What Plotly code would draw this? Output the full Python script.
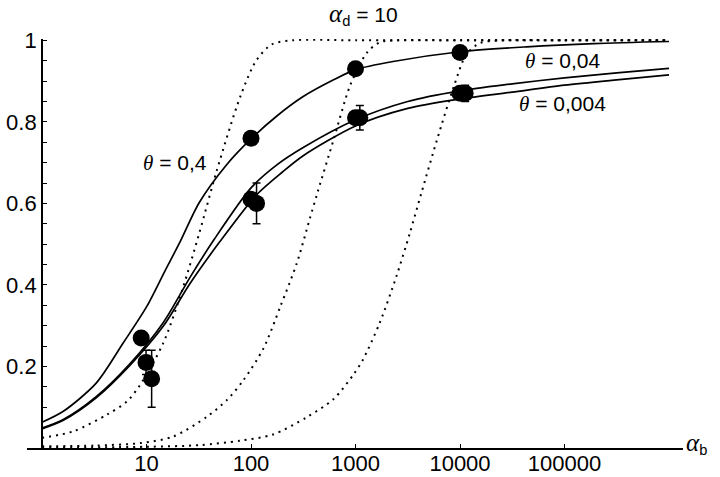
import plotly.graph_objects as go

# ---------------- data ----------------
# solid theory curves (fraction vs alpha_b)
s1_x = [1, 1.6, 3.3, 6, 10, 15, 21, 32, 59, 100, 178, 316, 617, 1000, 2290, 10000, 43600, 190500, 1000000]
s1_y = [0.063, 0.09, 0.159, 0.258, 0.346, 0.434, 0.506, 0.602, 0.696, 0.758, 0.815, 0.862, 0.903, 0.928, 0.948, 0.972, 0.984, 0.992, 0.997]

s2_x = [1, 1.6, 3.3, 6.9, 14.5, 26, 44, 100, 178, 316, 1000, 3160, 10000, 31600, 100000, 316000, 1000000]
s2_y = [0.049, 0.07, 0.126, 0.206, 0.308, 0.418, 0.51, 0.638, 0.695, 0.737, 0.805, 0.85, 0.876, 0.893, 0.908, 0.92, 0.931]

s3_x = [1, 1.6, 3.3, 6.9, 14.5, 26, 50, 112, 200, 316, 1000, 3160, 10000, 31600, 100000, 316000, 1000000]
s3_y = [0.047, 0.068, 0.123, 0.202, 0.299, 0.403, 0.505, 0.62, 0.677, 0.717, 0.79, 0.833, 0.856, 0.873, 0.89, 0.903, 0.915]

# dotted curves
d1_x = [1, 2, 4.2, 6.5, 8.7, 14.5, 22, 32, 47, 79, 112, 158, 250, 1000, 10000, 100000, 1000000]
d1_y = [0.025, 0.041, 0.082, 0.114, 0.155, 0.258, 0.388, 0.527, 0.68, 0.862, 0.95, 0.99, 1.0, 1, 1, 1, 1]

d2_x = [1, 3.2, 8.7, 18, 38, 59, 85, 132, 191, 275, 363, 437, 617, 891, 1290, 1700, 2510, 10000, 100000, 1000000]
d2_y = [0.004, 0.006, 0.012, 0.028, 0.077, 0.118, 0.167, 0.245, 0.347, 0.454, 0.56, 0.63, 0.756, 0.89, 0.97, 0.995, 1.0, 1, 1, 1]

d3_x = [1, 10, 32, 79, 162, 339, 617, 955, 1175, 1700, 2455, 3311, 4266, 6026, 8710, 11480, 15490, 25120, 100000, 1000000]
d3_y = [0.001, 0.003, 0.007, 0.018, 0.033, 0.075, 0.12, 0.18, 0.216, 0.306, 0.42, 0.527, 0.625, 0.756, 0.886, 0.965, 0.993, 1.0, 1, 1]

# measured points
pts_x = [8.9, 9.9, 11.2, 100, 100, 113, 1000, 1000, 1100, 10000, 10000, 11200]
pts_y = [0.27, 0.21, 0.17, 0.76, 0.61, 0.60, 0.93, 0.81, 0.81, 0.97, 0.87, 0.87]
err_x = [9.9, 11.2, 113, 1100, 11200]
err_y = [0.21, 0.17, 0.60, 0.81, 0.87]
err_v = [0.03, 0.07, 0.05, 0.03, 0.02]

x_tickvals = [10, 100, 1000, 10000, 100000]
x_ticktext = ["10", "100", "1000", "10000", "100000"]
y_tickvals = [0.2, 0.4, 0.6, 0.8, 1.0]
y_ticktext = ["0.2", "0.4", "0.6", "0.8", "1"]
y_minorvals = [0.05, 0.1, 0.15, 0.25, 0.3, 0.35, 0.45, 0.5, 0.55, 0.65, 0.7, 0.75, 0.85, 0.9, 0.95]

# ---------------- layout helpers ----------------
W, H = 720, 477
L, R, T, B = 27, 683, 39, 448


def px_x(p):
    return (p - L) / (R - L)


def px_y(p):
    return (B - p) / (B - T)


fig = go.Figure()

dot_line = dict(color="black", width=2, dash="2px,5px")
for dx, dy in [(d1_x, d1_y), (d2_x, d2_y), (d3_x, d3_y)]:
    fig.add_trace(go.Scatter(x=dx, y=dy, mode="lines", line=dict(dot_line, shape="spline", smoothing=0.8),
                             hoverinfo="skip", showlegend=False))

for sx, sy in [(s1_x, s1_y), (s2_x, s2_y), (s3_x, s3_y)]:
    fig.add_trace(go.Scatter(x=sx, y=sy, mode="lines",
                             line=dict(color="black", width=1.7, shape="spline", smoothing=0.8),
                             showlegend=False))

fig.add_trace(go.Scatter(x=err_x, y=err_y, mode="markers",
                         marker=dict(size=1, color="rgba(0,0,0,0)"),
                         error_y=dict(type="data", array=err_v, visible=True,
                                      color="black", thickness=1.5, width=4),
                         showlegend=False))
fig.add_trace(go.Scatter(x=pts_x, y=pts_y, mode="markers",
                         marker=dict(size=17, color="black"), showlegend=False))

y_top = (B - T) / ((B - T) - 1.3)

fig.update_layout(
    width=W, height=H,
    margin=dict(l=L, r=W - R, t=T, b=H - B, autoexpand=False),
    paper_bgcolor="white", plot_bgcolor="white",
    font=dict(family="Liberation Sans, Arial, sans-serif", size=22, color="black"),
    xaxis=dict(type="log", range=[-0.1435, 6.134], showgrid=False, zeroline=False,
               showline=True, linecolor="black", linewidth=1.8,
               tickmode="array", tickvals=x_tickvals, ticktext=x_ticktext,
               ticks="inside", ticklen=4, tickwidth=1.3, tickcolor="black",
               ticklabelstandoff=-5, automargin=False),
    yaxis=dict(range=[0, y_top], showgrid=False, zeroline=False,
               showline=True, linecolor="black", linewidth=1.8,
               anchor="free", position=px_x(42), side="left",
               tickmode="array", tickvals=y_tickvals, ticktext=y_ticktext,
               ticks="inside", ticklen=4, tickwidth=1.3, tickcolor="black",
               minor=dict(tickmode="array", tickvals=y_minorvals, ticks="inside",
                          ticklen=4, tickwidth=1.3, tickcolor="black"),
               automargin=False),
)

serif = "font-family:Liberation Serif, Times New Roman, serif"
alpha = "<span style='font-family:Liberation Serif, Times New Roman, serif;font-size:25px'><i>α</i></span>"
ann = [
    (f"{alpha}<sub>d</sub> = 10", 363, 15, "center"),
    (f"<span style='{serif}'><i>θ</i></span> = 0,4", 175, 163, "center"),
    (f"<span style='{serif}'><i>θ</i></span> = 0,04", 562, 61, "center"),
    (f"<span style='{serif}'><i>θ</i></span> = 0,004", 562, 104, "center"),
    (f"{alpha}<sub>b</sub>", 684, 443, "left"),
]
for text, x, y, xa in ann:
    fig.add_annotation(text=text, x=px_x(x), y=px_y(y), xref="paper", yref="paper",
                       showarrow=False, xanchor=xa, yanchor="middle",
                       font=dict(size=21, color="black"))

fig.write_html("out.html", config={"displayModeBar": False},
               post_script="document.body.style.margin='0px';")
